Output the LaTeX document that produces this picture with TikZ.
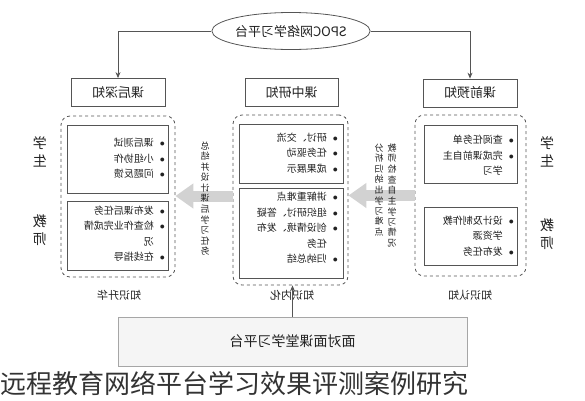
\documentclass[tikz,border=0pt]{standalone}
\usepackage{fontspec}
\usepackage{graphicx}
\setmainfont{Noto Sans CJK SC}
\usetikzlibrary{arrows.meta,shapes.geometric}
\definecolor{ln}{HTML}{555555}
\definecolor{tx}{HTML}{222222}
\newcommand\mr[1]{\reflectbox{#1}}
\newcommand\vcol[1]{\mr{\begin{tabular}{@{}c@{}}#1\end{tabular}}}
\newcommand\blist[1]{\mr{\begin{tabular}{@{}l@{\hspace{6pt}}l@{}}#1\end{tabular}}}
\newcommand\bl{$\bullet$}
\begin{document}
\begin{tikzpicture}[x=1pt,y=-1pt,
  every node/.style={text=tx},
  hdbox/.style={draw=ln, line width=0.8pt, minimum width=94pt, minimum height=28pt, inner sep=0pt, font=\fontsize{13}{15}\selectfont},
  dbox/.style={draw=ln, dashed, line width=0.8pt, rounded corners=9pt, inner sep=0pt},
  ibox/.style={draw=ln, line width=0.8pt, inner sep=0pt},
  lst/.style={anchor=east, inner sep=0pt, font=\fontsize{10}{15.5}\selectfont},
  vtxt/.style={anchor=north, inner sep=0pt, font=\fontsize{9}{10.2}\selectfont},
  side/.style={inner sep=0pt, font=\fontsize{14}{18}\selectfont},
  foot/.style={inner sep=0pt, font=\fontsize{11}{13}\selectfont},
  conn/.style={draw=ln, line width=0.8pt, -{Stealth[length=6pt,width=5pt]}},
  garr/.style={draw=gray!35, line width=11pt, -{Triangle[length=18pt,width=24pt]}},
]
\useasboundingbox (0,0) rectangle (585,400);

% top ellipse
\node[draw=ln, ellipse, line width=0.8pt, minimum width=151pt, minimum height=37pt, inner sep=0pt, font=\fontsize{13}{15}\selectfont] (E) at (291,31) {\mr{SPOC网络学习平台}};

% header boxes
\node[hdbox] (A) at (118,92.5) {\mr{课后深知}};
\node[hdbox, minimum width=93pt] (B) at (291.5,92.5) {\mr{课中研知}};
\node[hdbox] (C) at (470,93) {\mr{课前预知}};

\draw[conn] (E.west) -| (A.north);
\draw[conn] (E.east) -| (C.north);

% dashed groups
\node[dbox, minimum width=114pt, minimum height=161pt] (L) at (118,196.5) {};
\node[dbox, minimum width=115pt, minimum height=170pt] (M) at (290.5,200) {};
\node[dbox, minimum width=111pt, minimum height=161pt] (R) at (470.5,195.5) {};

% inner boxes
\node[ibox, minimum width=101pt, minimum height=68pt] (L1) at (117.5,159) {};
\node[ibox, minimum width=101pt, minimum height=69pt] (L2) at (117.5,235.5) {};
\node[ibox, minimum width=104pt, minimum height=59pt] (M1) at (291,153.5) {};
\node[ibox, minimum width=104pt, minimum height=90pt] (M2) at (291,233) {};
\node[ibox, minimum width=93pt, minimum height=58pt] (R1) at (470.5,154) {};
\node[ibox, minimum width=93pt, minimum height=58pt] (R2) at (470.5,236) {};

% gray flow arrows
\draw[garr] (M.west |- 0,196) -- (L.east |- 0,196);
\draw[garr] (R.west |- 0,195.5) -- (M.east |- 0,195.5);

% lists
\node[lst] (tL1) at (165,159) {\blist{\bl & 课后测试\\ \bl & 小组协作\\ \bl & 问题反馈}};
\node[lst] (tL2) at (165,234.5) {\blist{\bl & 发布课后任务\\ \bl & 检查作业完成情\\ & 况\\ \bl & 在线指导}};
\node[lst] (tM1) at (338,153.5) {\blist{\bl & 研讨、交流\\ \bl & 任务驱动\\ \bl & 成果展示}};
\node[lst] (tM2) at (338,228.5) {\blist{\bl & 讲解重难点\\ \bl & 组织研讨、答疑\\ \bl & 创设情境、发布\\ & 任务\\ \bl & 归纳总结}};
\node[lst] (tR1) at (514,156) {\blist{\bl & 查阅任务单\\ \bl & 完成课前自主\\ & 学习}};
\node[lst] (tR2) at (514,236.5) {\blist{\bl & 设计及制作教\\ & 学资源\\ \bl & 发布任务}};

% vertical labels
\node[vtxt] (v1) at (205,141.4) {\vcol{总\\结\\并\\设\\计\\课\\后\\学\\习\\任\\务}};
\node[vtxt] (v2) at (392,143.4) {\vcol{教\\师\\检\\查\\自\\主\\学\\习\\情\\况}};
\node[vtxt] (v3) at (379,143.4) {\vcol{分\\析\\归\\纳\\出\\学\\习\\难\\点}};

% side labels
\node[side] (s1) at (547,153.5) {\vcol{学\\生}};
\node[side] (s2) at (547,235.5) {\vcol{教\\师}};
\node[side] (s3) at (40,154) {\vcol{学\\生}};
\node[side] (s4) at (40,232) {\vcol{教\\师}};

% footer labels
\node[foot] (f1) at (119,295) {\mr{知识升华}};
\node[foot] (f2) at (292,295) {\mr{知识内化}};
\node[foot] (f3) at (470,295) {\mr{知识认知}};

% bottom platform
\node[draw=gray!70, fill=gray!8, line width=0.8pt, minimum width=349pt, minimum height=49pt, inner sep=0pt, font=\fontsize{14}{16}\selectfont] (P) at (292.5,341.5) {\mr{面对面课堂学习平台}};
\draw[conn] (P.north) -- (P.north |- M.south);

% caption
\node[anchor=west, inner sep=0pt, font=\fontsize{26}{28}\selectfont, text=black!80] (cap) at (0,383) {远程教育网络平台学习效果评测案例研究};
\end{tikzpicture}
\end{document}
